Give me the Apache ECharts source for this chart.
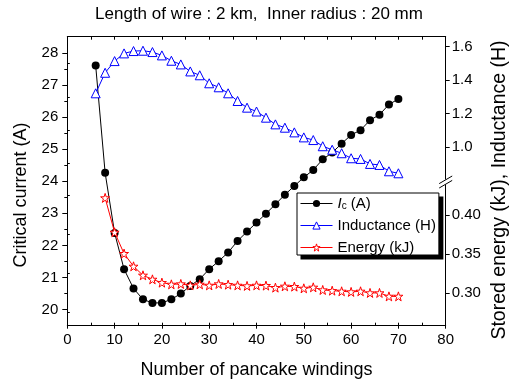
<!DOCTYPE html>
<html><head><meta charset="utf-8">
<script src="https://cdn.jsdelivr.net/npm/echarts@6/dist/echarts.min.js"></script>
<style>html,body{margin:0;padding:0;background:#fff}#c{width:518px;height:385px}</style>
</head><body><div id="c"></div>
<script>
const windings = [6,8,10,12,14,16,18,20,22,24,26,28,30,32,34,36,38,40,42,44,46,48,50,52,54,56,58,60,62,64,66,68,70];
const criticalCurrent = [27.6,24.26,22.39,21.26,20.66,20.32,20.21,20.21,20.32,20.50,20.74,20.95,21.26,21.51,21.78,22.14,22.43,22.71,22.99,23.28,23.58,23.85,24.12,24.35,24.68,24.89,25.17,25.44,25.59,25.90,26.07,26.39,26.56];
const inductance = [1.321,1.444,1.514,1.560,1.574,1.576,1.568,1.548,1.516,1.494,1.452,1.429,1.381,1.357,1.321,1.275,1.235,1.212,1.175,1.135,1.115,1.087,1.057,1.041,1.004,0.983,0.962,0.932,0.928,0.898,0.892,0.854,0.842];
const energyWindings = [8,10,12,14,16,18,20,22,24,26,28,30,32,34,36,38,40,42,44,46,48,50,52,54,56,58,60,62,64,66,68,70];
const energy = [0.4218,0.3777,0.3504,0.3341,0.3226,0.3174,0.3132,0.3110,0.3115,0.3097,0.3110,0.3097,0.3115,0.3106,0.3097,0.3090,0.3097,0.3094,0.3068,0.3085,0.3081,0.3059,0.3072,0.3038,0.3029,0.3021,0.3013,0.3021,0.3000,0.3000,0.2956,0.2956];
const currentTicks = [20,21,22,23,24,25,26,27,28];
const currentMinor = [20.5,21.5,22.5,23.5,24.5,25.5,26.5,27.5];
const inductanceTicks = [1.0,1.2,1.4,1.6];
const inductanceMinor = [0.9,1.1,1.3,1.5];
const energyTicks = [0.30,0.35,0.40];
const energyMinor = [0.275,0.325,0.375,0.425];

const FONT = 'Liberation Sans, Arial, sans-serif';
const STAR = 'path://M50,2 L61,36 L97,36 L68,57 L79,92 L50,71 L21,92 L32,57 L3,36 L39,36 Z';
const black = {color:'#000', width:1};

const L = 67.3, W = 378.4, T = 36.7, H = 289;
const chart = echarts.init(document.getElementById('c'), null, {renderer:'canvas'});

function hiddenX(g){ return {gridIndex:g, type:'value', min:0, max:80, show:false}; }
function nameAxis(g, pos, name, gap, size){
  return {gridIndex:g, type:'value', position:pos, min:0, max:1,
    axisLine:{show:false}, axisTick:{show:false}, axisLabel:{show:false}, splitLine:{show:false},
    name:name, nameLocation:'middle', nameGap:gap, nameRotate:90,
    nameTextStyle:{fontSize:size, fontFamily:FONT, color:'#000'}};
}

const option = {
  animation:false,
  backgroundColor:'#fff',
  textStyle:{fontFamily:FONT, color:'#000'},
  title:{text:'Length of wire : 2 km,  Inner radius : 20 mm', left:'center', top:6, padding:0,
    textStyle:{fontFamily:FONT, fontSize:17, fontWeight:'normal', color:'#000'}},
  grid:[
    {left:L, top:T, width:W, height:H},
    {left:L, top:T, width:W, height:143.6},
    {left:L, top:183.7, width:W, height:142},
    {left:L, top:50, width:W, height:280},
    {left:L, top:55, width:W, height:280}
  ],
  xAxis:[
    {gridIndex:0, type:'value', min:0, max:80, interval:10, position:'bottom',
      axisLine:{show:true, onZero:false, lineStyle:black},
      axisTick:{show:true, length:3, lineStyle:black},
      axisLabel:{margin:7, color:'#000', fontSize:15, fontFamily:FONT},
      splitLine:{show:false},
      name:'Number of pancake windings', nameLocation:'middle', nameGap:35,
      nameTextStyle:{fontSize:18, fontFamily:FONT, color:'#000'}},
    {gridIndex:0, type:'value', min:0, max:80, interval:5, position:'bottom',
      axisLine:{show:false}, axisTick:{show:true, inside:true, length:3, lineStyle:black},
      axisLabel:{show:false}, splitLine:{show:false}},
    {gridIndex:0, type:'value', min:0, max:80, interval:5, position:'top',
      axisLine:{show:true, onZero:false, lineStyle:black}, axisTick:{show:true, inside:true, length:3, lineStyle:black},
      axisLabel:{show:false}, splitLine:{show:false}},
    hiddenX(1), hiddenX(2), hiddenX(3), hiddenX(4)
  ],
  yAxis:[
    {gridIndex:0, type:'value', position:'left', min:19.5, max:28.5,
      axisLine:{show:true, onZero:false, lineStyle:black},
      axisTick:{show:true, length:5, lineStyle:black, customValues:currentTicks},
      axisLabel:{color:'#000', fontSize:15, fontFamily:FONT, margin:9, customValues:currentTicks},
      splitLine:{show:false}},
    {gridIndex:0, type:'value', position:'left', min:19.5, max:28.5,
      axisLine:{show:false}, axisTick:{show:true, length:3, lineStyle:black, customValues:currentMinor},
      axisLabel:{show:false}, splitLine:{show:false}},
    {gridIndex:1, type:'value', position:'right', min:0.8, max:1.66,
      axisLine:{show:true, onZero:false, lineStyle:black},
      axisTick:{show:true, length:4, lineStyle:black, customValues:inductanceTicks},
      axisLabel:{color:'#000', fontSize:15, fontFamily:FONT, margin:6, customValues:inductanceTicks,
        formatter:v=>Number(v).toFixed(1)},
      splitLine:{show:false}},
    {gridIndex:1, type:'value', position:'right', min:0.8, max:1.66,
      axisLine:{show:false}, axisTick:{show:true, length:2.5, lineStyle:black, customValues:inductanceMinor},
      axisLabel:{show:false}, splitLine:{show:false}},
    {gridIndex:2, type:'value', position:'right', min:0.258, max:0.44,
      axisLine:{show:true, onZero:false, lineStyle:black},
      axisTick:{show:true, length:4, lineStyle:black, customValues:energyTicks},
      axisLabel:{color:'#000', fontSize:15, fontFamily:FONT, margin:6, customValues:energyTicks,
        formatter:v=>Number(v).toFixed(2)},
      splitLine:{show:false}},
    {gridIndex:2, type:'value', position:'right', min:0.258, max:0.44,
      axisLine:{show:false}, axisTick:{show:true, length:2.5, lineStyle:black, customValues:energyMinor},
      axisLabel:{show:false}, splitLine:{show:false}},
    nameAxis(3, 'right', 'Stored energy (kJ), Inductance (H)', 53, 19.5),
    nameAxis(4, 'left', 'Critical current (A)', 37, 18)
  ],
  legend:{
    orient:'vertical', left:297, top:193, selectedMode:false, z:10,
    padding:[3,3,0,3], itemGap:7, itemWidth:32, itemHeight:9,
    backgroundColor:'#fff', borderColor:'#000', borderWidth:1,
    lineStyle:{width:1}, itemStyle:{borderWidth:1},
    data:['Ic','Inductance (H)','Energy (kJ)'],
    formatter:n => n==='Ic' ? '{i|I}{s|c}{t| (A)}' : n,
    textStyle:{fontFamily:FONT, fontSize:15, color:'#000',
      rich:{
        i:{fontStyle:'italic', fontSize:15, fontFamily:FONT, verticalAlign:'middle'},
        s:{fontSize:10, fontFamily:FONT, verticalAlign:'bottom'},
        t:{fontSize:15, fontFamily:FONT, verticalAlign:'middle'}
      }}
  },
  series:[
    {name:'Ic', type:'line', xAxisIndex:0, yAxisIndex:0,
      data:windings.map((w,i)=>[w,criticalCurrent[i]]),
      symbol:'circle', symbolSize:8, itemStyle:{color:'#000'}, lineStyle:{color:'#000', width:1}, z:2},
    {name:'Inductance (H)', type:'line', xAxisIndex:3, yAxisIndex:2,
      data:windings.map((w,i)=>[w,inductance[i]]),
      symbol:'triangle', symbolSize:9, itemStyle:{color:'#fff', borderColor:'#0000ff', borderWidth:1},
      lineStyle:{color:'#0000ff', width:1}, z:3},
    {name:'Energy (kJ)', type:'line', xAxisIndex:4, yAxisIndex:4,
      data:energyWindings.map((w,i)=>[w,energy[i]]),
      symbol:STAR, symbolSize:9, itemStyle:{color:'#fff', borderColor:'#ff0000', borderWidth:1},
      lineStyle:{color:'#ff0000', width:1}, z:4}
  ]
};
chart.setOption(option);

// axis break marks on the right axis, located from the two axes' ends
const xr = chart.convertToPixel({xAxisIndex:0}, 80);
const yTopSeg = chart.convertToPixel({yAxisIndex:2}, 0.8);
const yBotSeg = chart.convertToPixel({yAxisIndex:4}, 0.44);
const ym = (yTopSeg + yBotSeg) / 2;
const gfx = [
  {type:'rect', shape:{x:xr-3, y:ym-2.5, width:6, height:5}, style:{fill:'#fff'}, z:100},
  {type:'line', shape:{x1:xr-6.5, y1:ym-2.2+3.8, x2:xr+6.5, y2:ym-2.2-3.8}, style:{stroke:'#000', lineWidth:1}, z:101},
  {type:'line', shape:{x1:xr-6.5, y1:ym+2.2+3.8, x2:xr+6.5, y2:ym+2.2-3.8}, style:{stroke:'#000', lineWidth:1}, z:101}
];
// hard drop shadow of the legend box, taken from the legend's own layout
let lb = {x:297, y:193, width:141.5, height:63};
try {
  const lm = chart.getModel().getComponent('legend');
  const lv = chart.getViewOfComponentModel(lm);
  const g = lv.group;
  const r = g.getBoundingRect();
  lb = {x:g.x + r.x, y:g.y + r.y, width:r.width, height:r.height};
} catch(e) {}
gfx.push({type:'rect', shape:{x:lb.x+4, y:lb.y+4, width:lb.width, height:lb.height},
  style:{fill:'#000'}, z:9});
chart.setOption({graphic:gfx});
</script></body></html>
